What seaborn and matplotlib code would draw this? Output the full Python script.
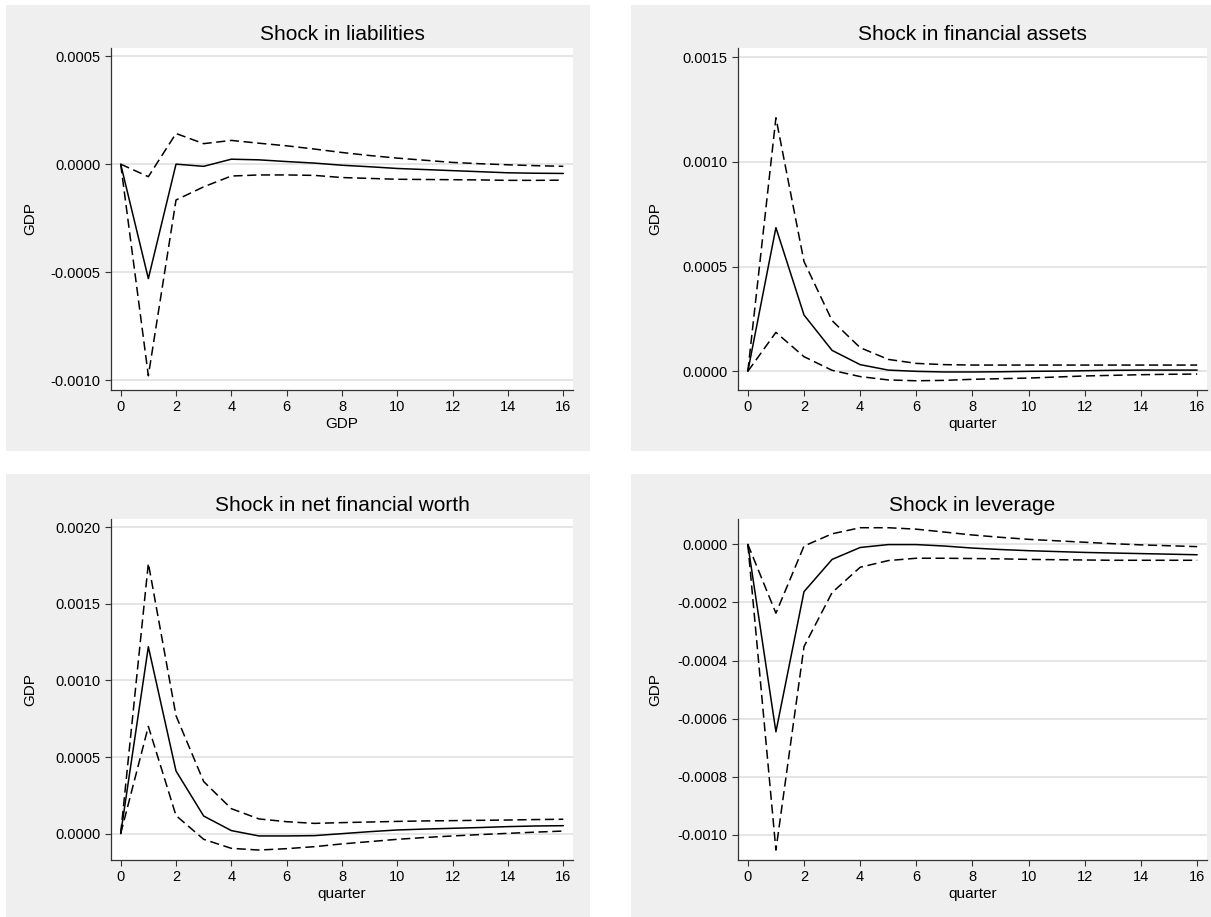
import pandas as pd
import matplotlib
matplotlib.use('Agg')
import matplotlib.pyplot as plt
from matplotlib.patches import Rectangle
from matplotlib.ticker import FormatStrFormatter, MultipleLocator
import seaborn as sns

# quarters after the shock
quarter = list(range(17))

# impulse responses of GDP (central estimate, upper and lower bands)
liab_irf = [0, -0.00053, 0.0, -0.00001, 0.000023, 0.00002, 0.000012, 0.000005, -0.000005,
            -0.000012, -0.00002, -0.000025, -0.00003, -0.000035, -0.00004, -0.000042, -0.000043]
liab_hi = [0, -0.000058, 0.000142, 0.000095, 0.00011, 0.000097, 0.000085, 0.00007, 0.000054,
           0.00004, 0.000028, 0.000018, 0.000008, 0.000002, -0.000003, -0.000007, -0.00001]
liab_lo = [0, -0.00098, -0.000166, -0.000105, -0.000055, -0.00005, -0.00005, -0.000052, -0.000062,
           -0.000066, -0.00007, -0.000071, -0.000072, -0.000073, -0.000075, -0.000075, -0.000074]

fa_irf = [0, 0.000686, 0.000269, 0.0001, 0.000032, 0.000006, 0.0, -0.000003, -0.000003,
          -0.000002, 0.0, 0.000001, 0.000003, 0.000005, 0.000006, 0.000006, 0.000006]
fa_hi = [0, 0.00121, 0.000524, 0.000242, 0.000113, 0.000057, 0.000038, 0.000032, 0.00003,
         0.00003, 0.00003, 0.00003, 0.00003, 0.00003, 0.00003, 0.00003, 0.00003]
fa_lo = [0, 0.000186, 0.00007, 0.000005, -0.000025, -0.000041, -0.000045, -0.000043, -0.000038,
         -0.000035, -0.000032, -0.000027, -0.000022, -0.000019, -0.000016, -0.000014, -0.000013]

nfw_irf = [0, 0.00122, 0.000409, 0.000115, 0.00002, -0.000015, -0.000015, -0.000013, 0.0,
           0.000013, 0.000024, 0.00003, 0.000035, 0.00004, 0.000046, 0.00005, 0.000052]
nfw_hi = [0, 0.001765, 0.00077, 0.00034, 0.000163, 0.000096, 0.000078, 0.000067, 0.000072,
          0.000076, 0.00008, 0.000083, 0.000085, 0.000087, 0.000089, 0.000092, 0.000094]
nfw_lo = [0, 0.0007, 0.000118, -0.000037, -0.000096, -0.000107, -0.000098, -0.000085, -0.000067,
          -0.000052, -0.000037, -0.000025, -0.000015, -0.000006, 0.000002, 0.00001, 0.000017]

lev_irf = [0, -0.000645, -0.000163, -0.000052, -0.000011, -0.000001, -0.000001, -0.000006, -0.000013,
           -0.000018, -0.000022, -0.000025, -0.000028, -0.00003, -0.000032, -0.000034, -0.000036]
lev_hi = [0, -0.000237, -0.000006, 0.000036, 0.000057, 0.000057, 0.000052, 0.000042, 0.000032,
          0.000024, 0.000017, 0.000012, 0.000007, 0.000002, -0.000002, -0.000005, -0.000008]
lev_lo = [0, -0.001052, -0.000352, -0.000166, -0.000079, -0.000056, -0.000048, -0.000048, -0.000049,
          -0.00005, -0.000052, -0.000053, -0.000054, -0.000055, -0.000055, -0.000055, -0.000055]

titles = ['Shock in liabilities', 'Shock in financial assets',
          'Shock in net financial worth', 'Shock in leverage']
xlabels = ['GDP', 'quarter', 'quarter', 'quarter']

sns.set_style('white')
plt.rcParams['font.family'] = ['Liberation Sans', 'DejaVu Sans']
plt.rcParams['text.color'] = 'black'
plt.rcParams['axes.labelcolor'] = 'black'

W, H = 1211, 917
fig = plt.figure(figsize=(W / 100, H / 100), dpi=100)

# grey panel backgrounds (pixel boxes: x0, y0, x1, y1)
boxes = [(6, 5, 590, 451), (631, 5, 1211, 451), (6, 474, 590, 917), (631, 474, 1211, 917)]
for x0, y0, x1, y1 in boxes:
    fig.patches.append(Rectangle((x0 / W, 1 - y1 / H), (x1 - x0) / W, (y1 - y0) / H,
                                 transform=fig.transFigure, facecolor='#efefef',
                                 edgecolor='none', zorder=-10))

# axes boxes (pixel): left, top, right, bottom
frames = [(111, 48, 573, 390), (738, 48, 1207, 390), (111, 519, 573, 860), (738, 519, 1207, 860)]
ylims = [(-0.001046, 0.000538), (-0.000089, 0.001543), (-0.000172, 0.002054), (-0.001086, 0.000087)]
ysteps = [0.0005, 0.0005, 0.0005, 0.0002]
ylab_x = [-0.160, -0.162, -0.160, -0.162]

panels = [(liab_irf, liab_hi, liab_lo), (fa_irf, fa_hi, fa_lo),
          (nfw_irf, nfw_hi, nfw_lo), (lev_irf, lev_hi, lev_lo)]

for i, (irf, hi, lo) in enumerate(panels):
    l, t, r, b = frames[i]
    ax = fig.add_axes([l / W, 1 - b / H, (r - l) / W, (b - t) / H])
    ax.set_facecolor('white')

    df = pd.DataFrame({
        'quarter': quarter * 3,
        'value': irf + hi + lo,
        'series': ['irf'] * 17 + ['hi'] * 17 + ['lo'] * 17,
    })
    sns.lineplot(data=df, x='quarter', y='value', style='series', units='series',
                 estimator=None, color='black', linewidth=1.1,
                 dashes={'irf': '', 'hi': (6, 3), 'lo': (6, 3)}, legend=False, ax=ax)

    ax.set_xlim(-0.35, 16.35)
    ax.set_ylim(*ylims[i])
    ax.xaxis.set_major_locator(MultipleLocator(2))
    ax.yaxis.set_major_locator(MultipleLocator(ysteps[i]))
    ax.yaxis.set_major_formatter(FormatStrFormatter('%.4f'))
    ax.grid(axis='y', color='#e3e3e3', linewidth=1.3)
    ax.grid(axis='x', visible=False)
    ax.set_axisbelow(True)

    for s in ['top', 'right']:
        ax.spines[s].set_visible(False)
    for s in ['left', 'bottom']:
        ax.spines[s].set_color('#333333')
        ax.spines[s].set_linewidth(0.9)
    ax.tick_params(axis='both', direction='out', length=4, width=0.8, color='#333333',
                   labelsize=10.5, labelcolor='black', left=True, bottom=True)

    ax.set_title(titles[i], fontsize=15, pad=6, color='black')
    ax.set_xlabel(xlabels[i], fontsize=11, labelpad=2, color='black')
    ax.set_ylabel('GDP', fontsize=11, color='black')
    ax.yaxis.set_label_coords(ylab_x[i], 0.5)

fig.savefig('out.png', dpi=100, facecolor='white')
